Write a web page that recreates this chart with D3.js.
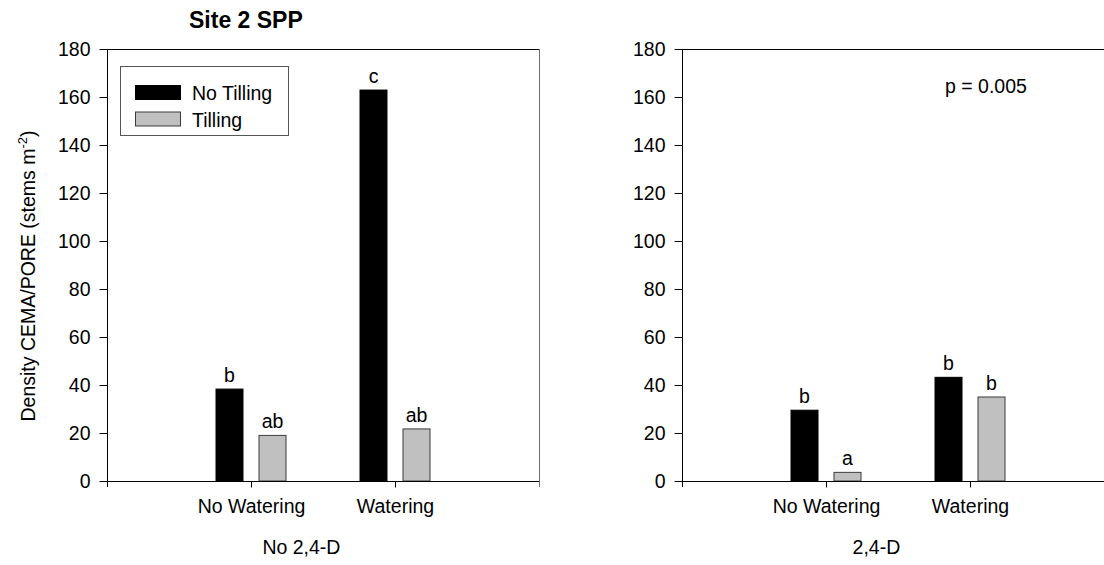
<!DOCTYPE html>
<html>
<head>
<meta charset="utf-8">
<script src="https://cdn.jsdelivr.net/npm/d3@7"></script>
<style>
  html, body { margin: 0; padding: 0; background: #fff; }
  svg text { font-family: "Liberation Sans", Arial, sans-serif; fill: #000; }
</style>
</head>
<body>
<svg id="chart" width="1104" height="565"></svg>
<script>
// Density of CEMA/PORE stems at Site 2 SPP, by watering, tilling and 2,4-D treatment
const panels = ["No 2,4-D", "2,4-D"];
const groups = ["No Watering", "Watering"];
const series = ["No Tilling", "Tilling"];
const yTicks = [0, 20, 40, 60, 80, 100, 120, 140, 160, 180];

// values per panel, indexed by watering group
const noTillingNo24D = [38.3, 162.9];
const tillingNo24D   = [19.0, 21.7];
const noTillingWith24D = [29.5, 43.2];
const tillingWith24D   = [3.6, 35.0];

// mean-separation letters
const lettersNoTillingNo24D = ["b", "c"];
const lettersTillingNo24D   = ["ab", "ab"];
const lettersNoTillingWith24D = ["b", "b"];
const lettersTillingWith24D   = ["a", "b"];

const pValueText = "p = 0.005";

const colors = { "No Tilling": "#000000", "Tilling": "#c0c0c0" };
const outline = { "No Tilling": "#000000", "Tilling": "#3a3a3a" };

const svg = d3.select("#chart");
const FS = 19.5;

const yTop = 49, yBottom = 481;
const y = d3.scaleLinear().domain([0, 180]).range([yBottom, yTop]);

const panelX = [107, 682];
const panelW = 432;

const panelData = [
  { values: [noTillingNo24D, tillingNo24D], letters: [lettersNoTillingNo24D, lettersTillingNo24D] },
  { values: [noTillingWith24D, tillingWith24D], letters: [lettersNoTillingWith24D, lettersTillingWith24D] }
];

const inner = d3.scaleBand().domain(series).range([-35, 35]).paddingInner(0.372);

panels.forEach((pname, pi) => {
  const x0 = panelX[pi], x1 = x0 + panelW;
  const g = svg.append("g");
  const x = d3.scalePoint().domain(groups).range([x0, x1]).padding(1);

  // frame: top and right edges
  g.append("line").attr("x1", x0).attr("x2", x1).attr("y1", yTop + 0.5).attr("y2", yTop + 0.5)
    .attr("stroke", "#000").attr("stroke-width", 1);
  g.append("line").attr("x1", x1 + 0.5).attr("x2", x1 + 0.5).attr("y1", yTop).attr("y2", yBottom + 6)
    .attr("stroke", "#6e6e6e").attr("stroke-width", 1);

  // bars
  series.forEach((s, si) => {
    const vals = panelData[pi].values[si];
    const lets = panelData[pi].letters[si];
    g.selectAll(null).data(groups.map((gr, gi) => ({ gr, v: vals[gi], l: lets[gi] })))
      .join("rect")
      .attr("x", d => x(d.gr) + inner(s))
      .attr("width", inner.bandwidth())
      .attr("y", d => y(d.v))
      .attr("height", d => y(0) - y(d.v))
      .attr("fill", colors[s])
      .attr("stroke", outline[s])
      .attr("stroke-width", 1);
    g.selectAll(null).data(groups.map((gr, gi) => ({ gr, v: vals[gi], l: lets[gi] })))
      .join("text")
      .attr("x", d => x(d.gr) + inner(s) + inner.bandwidth() / 2)
      .attr("y", d => y(d.v) - 7)
      .attr("text-anchor", "middle")
      .attr("font-size", FS)
      .text(d => d.l);
  });

  // y axis
  const yAxis = d3.axisLeft(y).tickValues(yTicks).tickSize(8).tickPadding(9).tickFormat(d3.format("d"));
  const ya = g.append("g").attr("transform", `translate(${x0 + 0.5},0)`).call(yAxis);
  ya.select(".domain").remove();
  ya.append("line").attr("x1", 0).attr("x2", 0).attr("y1", yTop).attr("y2", yBottom + 6).attr("stroke", "#000");
  ya.selectAll(".tick text").attr("font-size", FS).style("fill", "#000");
  ya.attr("font-family", null);

  // x axis
  const xAxis = d3.axisBottom(x).tickSize(6).tickPadding(12);
  const xa = g.append("g").attr("transform", `translate(0,${yBottom + 0.5})`).call(xAxis);
  xa.select(".domain").remove();
  xa.append("line").attr("x1", x0).attr("x2", x1).attr("y1", 0).attr("y2", 0).attr("stroke", "#000");
  xa.selectAll(".tick text").attr("font-size", FS).style("fill", "#000");
  xa.attr("font-family", null);

  // panel caption
  g.append("text")
    .attr("x", x0 + panelW * 0.45)
    .attr("y", 554)
    .attr("text-anchor", "middle")
    .attr("font-size", FS)
    .text(pname);
});

// title
svg.append("text").attr("x", 189).attr("y", 28)
  .attr("font-size", 23).attr("font-weight", "bold").text("Site 2 SPP");

// y axis title
const yt = svg.append("text")
  .attr("transform", "translate(35,276) rotate(-90)")
  .attr("text-anchor", "middle")
  .attr("font-size", FS);
yt.append("tspan").text("Density CEMA/PORE (stems m");
yt.append("tspan").attr("font-size", 13).attr("dy", -8).text("-2");
yt.append("tspan").attr("dy", 8).text(")");

// legend
const leg = svg.append("g");
leg.append("rect").attr("x", 120.5).attr("y", 66.5).attr("width", 168).attr("height", 69)
  .attr("fill", "#fff").attr("stroke", "#555");
series.forEach((s, i) => {
  leg.append("rect").attr("x", 135.5).attr("y", 85.5 + i * 26.5).attr("width", 45).attr("height", 14)
    .attr("fill", colors[s]).attr("stroke", outline[s]);
  leg.append("text").attr("x", 192).attr("y", 100 + i * 26.5).attr("font-size", FS).text(s);
});

// p-value annotation
svg.append("text").attr("x", 945).attr("y", 93).attr("font-size", FS).text(pValueText);
</script>
</body>
</html>
